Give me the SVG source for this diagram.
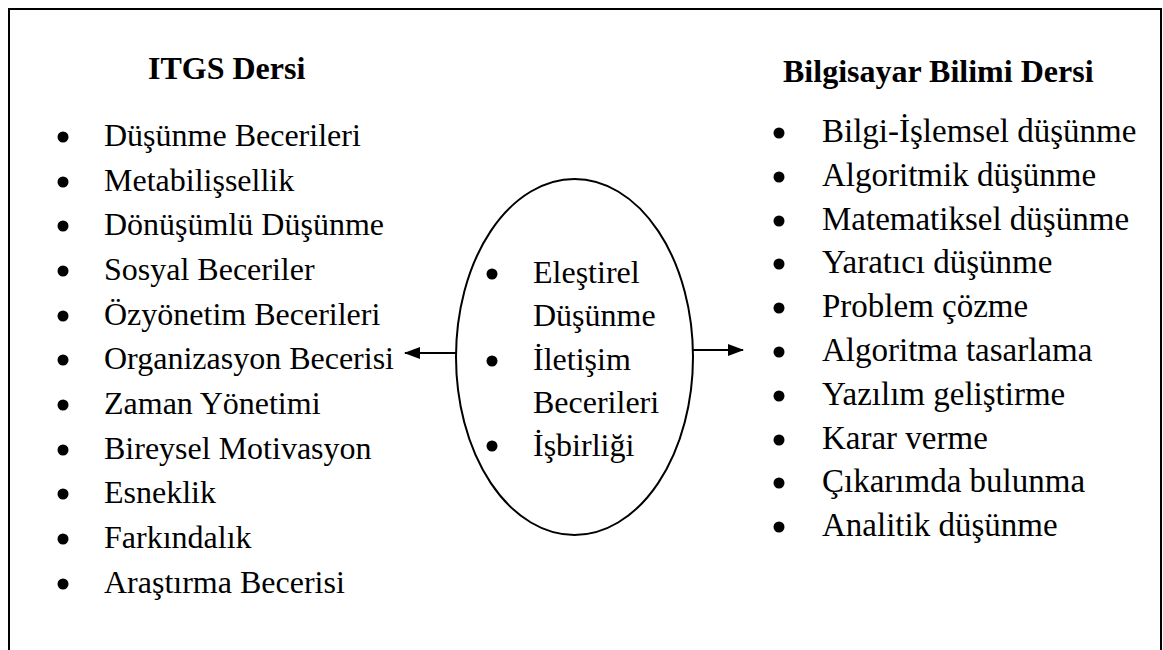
<svg xmlns="http://www.w3.org/2000/svg" width="1163" height="650" viewBox="0 0 1163 650">
<style>
.t{font-family:"Liberation Serif","Times New Roman",serif;font-size:32px;fill:#000}
.r{font-size:33px}
.h{font-family:"Liberation Serif","Times New Roman",serif;font-size:32px;font-weight:bold;fill:#000}
.b{fill:#000}
.ln{stroke:#000;stroke-width:2;fill:none}
</style>
<defs>
<marker id="ah" markerWidth="16" markerHeight="12" refX="15" refY="6" orient="auto" markerUnits="userSpaceOnUse">
<path d="M0,0 L16,6 L0,12 Z" fill="#000"/>
</marker>
</defs>
<rect width="1163" height="650" fill="#fff"/>
<path class="ln" d="M9,650 V9 H1161 V650"/>
<g id="left">
<text class="h" x="148" y="79">ITGS Dersi</text>
<g class="b">
<circle cx="63" cy="137" r="5.5"/><circle cx="63" cy="182" r="5.5"/><circle cx="63" cy="226" r="5.5"/><circle cx="63" cy="271" r="5.5"/><circle cx="63" cy="316" r="5.5"/><circle cx="63" cy="360" r="5.5"/><circle cx="63" cy="405" r="5.5"/><circle cx="63" cy="450" r="5.5"/><circle cx="63" cy="494" r="5.5"/><circle cx="63" cy="539" r="5.5"/><circle cx="63" cy="584" r="5.5"/>
</g>
<text class="t" x="104" y="146">Düşünme Becerileri</text>
<text class="t" x="104" y="191">Metabilişsellik</text>
<text class="t" x="104" y="235">Dönüşümlü Düşünme</text>
<text class="t" x="104" y="280">Sosyal Beceriler</text>
<text class="t" x="104" y="325">Özyönetim Becerileri</text>
<text class="t" x="104" y="369">Organizasyon Becerisi</text>
<text class="t" x="104" y="414">Zaman Yönetimi</text>
<text class="t" x="104" y="459">Bireysel Motivasyon</text>
<text class="t" x="104" y="503">Esneklik</text>
<text class="t" x="104" y="548">Farkındalık</text>
<text class="t" x="104" y="593">Araştırma Becerisi</text>
</g>
<g id="center">
<ellipse class="ln" cx="574.5" cy="357" rx="118.5" ry="178"/>
<g class="b">
<circle cx="492" cy="274" r="5.5"/><circle cx="492" cy="361" r="5.5"/><circle cx="492" cy="446" r="5.5"/>
</g>
<text class="t" x="533" y="283">Eleştirel</text>
<text class="t" x="533" y="326">Düşünme</text>
<text class="t" x="533" y="370">İletişim</text>
<text class="t" x="533" y="413">Becerileri</text>
<text class="t" x="533" y="456">İşbirliği</text>
</g>
<g id="right">
<text class="h" x="783" y="82">Bilgisayar Bilimi Dersi</text>
<g class="b">
<circle cx="779" cy="133" r="5.5"/><circle cx="779" cy="177" r="5.5"/><circle cx="779" cy="221" r="5.5"/><circle cx="779" cy="264" r="5.5"/><circle cx="779" cy="308" r="5.5"/><circle cx="779" cy="352" r="5.5"/><circle cx="779" cy="396" r="5.5"/><circle cx="779" cy="440" r="5.5"/><circle cx="779" cy="483" r="5.5"/><circle cx="779" cy="527" r="5.5"/>
</g>
<text class="t r" x="822" y="142">Bilgi-İşlemsel düşünme</text>
<text class="t r" x="822" y="186">Algoritmik düşünme</text>
<text class="t r" x="822" y="230">Matematiksel düşünme</text>
<text class="t r" x="822" y="273">Yaratıcı düşünme</text>
<text class="t r" x="822" y="317">Problem çözme</text>
<text class="t r" x="822" y="361">Algoritma tasarlama</text>
<text class="t r" x="822" y="405">Yazılım geliştirme</text>
<text class="t r" x="822" y="449">Karar verme</text>
<text class="t r" x="822" y="492">Çıkarımda bulunma</text>
<text class="t r" x="822" y="536">Analitik düşünme</text>
</g>
<g id="connectors">
<line class="ln" x1="456" y1="353" x2="405" y2="353" marker-end="url(#ah)"/>
<line class="ln" x1="693" y1="350" x2="743" y2="350" marker-end="url(#ah)"/>
</g>
</svg>
